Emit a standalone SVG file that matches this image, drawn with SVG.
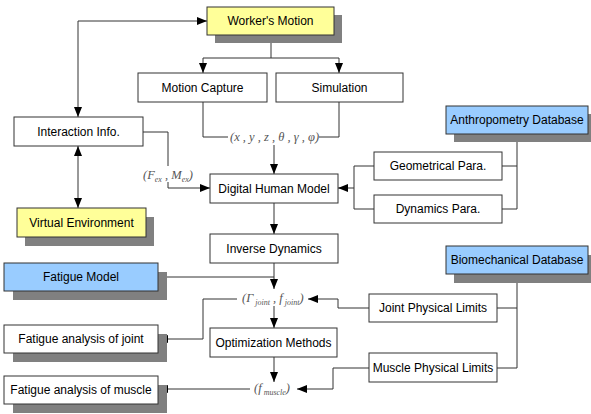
<svg xmlns="http://www.w3.org/2000/svg" width="591" height="414" viewBox="0 0 591 414">
<style>
.box{fill:#fff;stroke:#333;stroke-width:1}
.yel{fill:#ffff99}
.blu{fill:#99ccff}
.sh{fill:#808080;stroke:none}
.t{font-family:"Liberation Sans",Arial,sans-serif;font-size:12px;fill:#000;text-anchor:middle}
.m{font-family:"Liberation Serif","Times New Roman",serif;font-size:12.5px;fill:#555;font-style:italic}
.s{font-size:8px}
.c{fill:none;stroke:#333;stroke-width:1}
.a{marker-end:url(#ah)}
.b{marker-start:url(#ah);marker-end:url(#ah)}
</style>
<defs>
<marker id="ah" viewBox="0 0 10 8" refX="10" refY="4" markerWidth="10" markerHeight="8" markerUnits="userSpaceOnUse" orient="auto-start-reverse">
<path d="M0,0 L10,4 L0,8 z" fill="#000"/>
</marker>
</defs>
<g id="connectors">
<path class="c a" d="M271,35 V58 H203 V73"/>
<path class="c a" d="M271,58 H339 V73"/>
<path class="c b" d="M78,117 V21 H207"/>
<path class="c b" d="M78,146 V208"/>
<path class="c" d="M203,102 V137 H228"/>
<path class="c" d="M319,137 H339 V102"/>
<path class="c a" d="M274,145 V174"/>
<path class="c" d="M143,132 H168 V166"/>
<path class="c a" d="M168,182 V188 H210"/>
<path class="c a" d="M274,203 V234"/>
<path class="c" d="M517,134 V209 H502 M502,166 H517"/>
<path class="c" d="M374,166 H354 V209 H374"/>
<path class="c a" d="M354,188 H338"/>
<path class="c a" d="M274,263 V289"/>
<path class="c" d="M158,277 H274"/>
<path class="c a" d="M237,299 H203 V339 H158"/>
<path class="c a" d="M274,306 V328"/>
<path class="c a" d="M274,357 V382"/>
<path class="c a" d="M250,389 H158"/>
<path class="c" d="M517,274 V368 H497 M497,308 H517"/>
<path class="c a" d="M369,308 H338 V299 H308"/>
<path class="c a" d="M369,368 H333 V389 H297"/>
</g>
<g id="labels">
<text class="m" x="230" y="141">(x , y , z , θ , γ , φ)</text>
<text class="m" x="143" y="179">(F<tspan class="s" dy="3">ex</tspan><tspan dy="-3"> , M</tspan><tspan class="s" dy="3">ex</tspan><tspan dy="-3">)</tspan></text>
<text class="m" x="242" y="302">(Γ<tspan class="s" dy="3"> joint</tspan><tspan dy="-3"> , f</tspan><tspan class="s" dy="3"> joint</tspan><tspan dy="-3">)</tspan></text>
<text class="m" x="254" y="392">(f<tspan class="s" dy="3"> muscle</tspan><tspan dy="-3">)</tspan></text>
</g>
<g id="workers-motion">
<rect class="sh" x="215" y="15" width="127" height="28"/>
<rect class="box yel" x="207" y="7" width="127" height="28"/>
<text class="t" x="270.5" y="25">Worker's Motion</text>
</g>
<g id="motion-capture">
<rect class="box" x="138" y="73" width="129" height="29"/>
<text class="t" x="202.5" y="92">Motion Capture</text>
</g>
<g id="simulation">
<rect class="box" x="276" y="73" width="127" height="29"/>
<text class="t" x="339.5" y="92">Simulation</text>
</g>
<g id="interaction-info">
<rect class="box" x="14" y="117" width="129" height="29"/>
<text class="t" x="78.5" y="136">Interaction Info.</text>
</g>
<g id="virtual-environment">
<rect class="sh" x="25" y="217" width="129" height="29"/>
<rect class="box yel" x="17" y="208" width="129" height="29"/>
<text class="t" x="81.5" y="227">Virtual Environment</text>
</g>
<g id="digital-human-model">
<rect class="box" x="210" y="174" width="128" height="29"/>
<text class="t" x="274" y="193">Digital Human Model</text>
</g>
<g id="inverse-dynamics">
<rect class="box" x="210" y="234" width="128" height="29"/>
<text class="t" x="274" y="253">Inverse Dynamics</text>
</g>
<g id="anthropometry-database">
<rect class="sh" x="454" y="114" width="142" height="28"/>
<rect class="box blu" x="446" y="106" width="142" height="28"/>
<text class="t" x="517" y="124">Anthropometry Database</text>
</g>
<g id="geometrical-para">
<rect class="box" x="374" y="152" width="128" height="28"/>
<text class="t" x="438" y="170">Geometrical Para.</text>
</g>
<g id="dynamics-para">
<rect class="box" x="374" y="195" width="128" height="28"/>
<text class="t" x="438" y="213">Dynamics Para.</text>
</g>
<g id="fatigue-model">
<rect class="sh" x="13" y="272" width="154" height="28"/>
<rect class="box blu" x="4" y="263" width="154" height="28"/>
<text class="t" x="81" y="281">Fatigue Model</text>
</g>
<g id="fatigue-joint">
<rect class="sh" x="13" y="334" width="154" height="28"/>
<rect class="box" x="4" y="325" width="154" height="28"/>
<text class="t" x="81" y="343">Fatigue analysis of joint</text>
</g>
<g id="optimization-methods">
<rect class="box" x="210" y="328" width="127" height="29"/>
<text class="t" x="273.5" y="347">Optimization Methods</text>
</g>
<g id="fatigue-muscle">
<rect class="sh" x="13" y="385" width="154" height="28"/>
<rect class="box" x="4" y="376" width="154" height="28"/>
<text class="t" x="81" y="394">Fatigue analysis of muscle</text>
</g>
<g id="biomechanical-database">
<rect class="sh" x="454" y="255" width="142" height="28"/>
<rect class="box blu" x="446" y="246" width="142" height="28"/>
<text class="t" x="517" y="264">Biomechanical Database</text>
</g>
<g id="joint-physical-limits">
<rect class="box" x="369" y="294" width="128" height="28"/>
<text class="t" x="433" y="312">Joint Physical Limits</text>
</g>
<g id="muscle-physical-limits">
<rect class="box" x="369" y="353" width="128" height="29"/>
<text class="t" x="433" y="372">Muscle Physical Limits</text>
</g>
</svg>
